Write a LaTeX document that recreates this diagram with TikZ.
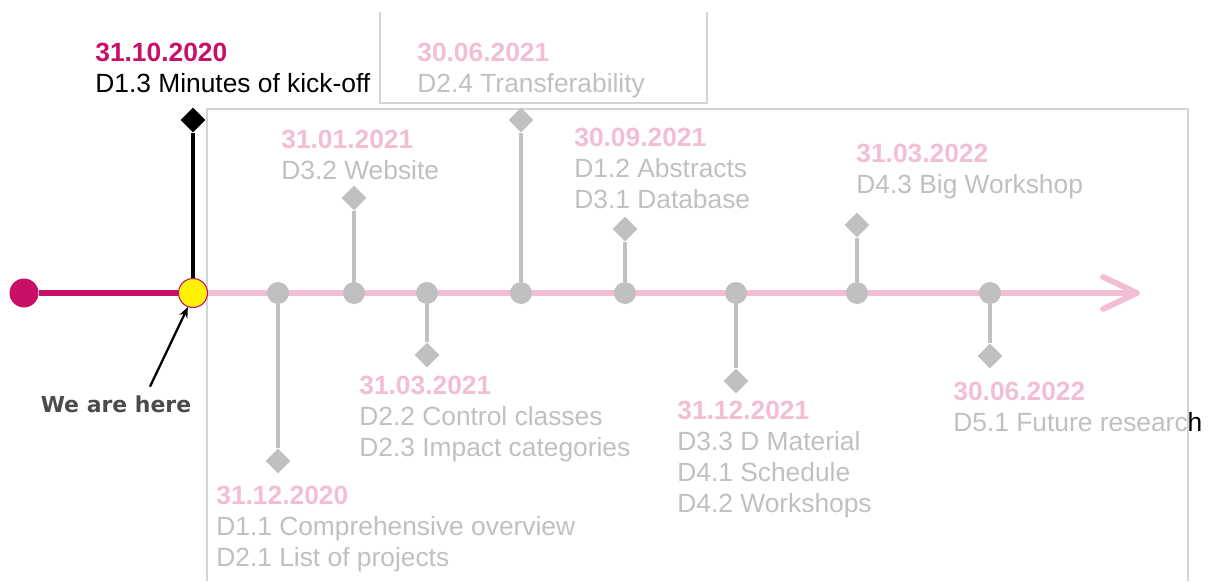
\documentclass[tikz,border=0pt]{standalone}
\usepackage{fontspec}
\setmainfont{Liberation Sans}
\newfontfamily\handfont{DejaVu Sans}
\usetikzlibrary{arrows.meta,shapes.geometric}

\definecolor{kickoff}{RGB}{200,16,104}
\definecolor{lightpink}{RGB}{242,190,214}
\definecolor{fadegray}{RGB}{192,192,192}
\definecolor{framegray}{RGB}{212,212,212}
\definecolor{handgray}{RGB}{75,75,75}

\begin{document}
\begin{tikzpicture}[x=0.02cm, y=-0.02cm,
    event/.style={circle, fill=fadegray, minimum size=0.44cm, inner sep=0},
    milestone/.style={diamond, fill=fadegray, minimum size=0.5cm, inner sep=0},
    stem/.style={fadegray, line width=2.3pt},
    info/.style={anchor=north west, inner sep=0, align=left, text=fadegray, font=\fontsize{15}{17.6}\selectfont},
    frame/.style={framegray, line width=0.6pt}
]
    \useasboundingbox (0,0) rectangle (1212,581);

    % Faded frames
    \draw[frame] (380,12) -- (380,103) -- (707,103) -- (707,12);
    \draw[frame] (207,581) -- (207,109) -- (1188,109) -- (1188,581);

    % Time line
    \node[circle, fill=kickoff, minimum size=0.58cm, inner sep=0] (start) at (24,293) {};
    \node[circle, fill=yellow, draw=kickoff, line width=0.6pt, minimum size=0.58cm, inner sep=0] (now) at (193,293) {};
    \coordinate (tip) at (1140,293);
    \draw[kickoff, line width=2.9pt] (start) -- (now);
    \draw[lightpink, line width=2.9pt, -{Straight Barb[round, length=0.68cm, width=0.64cm, line width=3.3pt]}] (now.east) -- (tip);

    % Kick-off
    \node[milestone, fill=black] (m0) at (193,120) {};
    \draw[black, line width=2.8pt] (now) -- (m0);
    \node[info, text=black] (l0) at (95,43) {\textbf{\textcolor{kickoff}{31.10.2020}}\\D1.3 Minutes of kick-off};

    % Events
    \node[event] (e1) at (278,293) {};
    \node[event] (e2) at (354,293) {};
    \node[event] (e3) at (427,293) {};
    \node[event] (e4) at (521,293) {};
    \node[event] (e5) at (625,293) {};
    \node[event] (e6) at (736,293) {};
    \node[event] (e7) at (857,293) {};
    \node[event] (e8) at (990,293) {};

    % Milestones
    \node[milestone] (m1) at (278,461) {};
    \node[milestone] (m2) at (354,198) {};
    \node[milestone] (m3) at (427,355) {};
    \node[milestone] (m4) at (521,120) {};
    \node[milestone] (m5) at (625,229) {};
    \node[milestone] (m6) at (736,381) {};
    \node[milestone] (m7) at (857,225) {};
    \node[milestone] (m8) at (990,356) {};

    % Stems
    \draw[stem] (e1) -- (m1);
    \draw[stem] (e2) -- (m2);
    \draw[stem] (e3) -- (m3);
    \draw[stem] (e4) -- (m4);
    \draw[stem] (e5) -- (m5);
    \draw[stem] (e6) -- (m6);
    \draw[stem] (e7) -- (m7);
    \draw[stem] (e8) -- (m8);

    % Deliverables
    \node[info] (l1) at (216,486) {\textbf{\textcolor{lightpink}{31.12.2020}}\\D1.1 Comprehensive overview\\D2.1 List of projects};
    \node[info] (l2) at (281,130) {\textbf{\textcolor{lightpink}{31.01.2021}}\\D3.2 Website};
    \node[info] (l3) at (359,376) {\textbf{\textcolor{lightpink}{31.03.2021}}\\D2.2 Control classes\\D2.3 Impact categories};
    \node[info] (l4) at (417,43) {\textbf{\textcolor{lightpink}{30.06.2021}}\\D2.4 Transferability};
    \node[info] (l5) at (574,128) {\textbf{\textcolor{lightpink}{30.09.2021}}\\D1.2 Abstracts\\D3.1 Database};
    \node[info] (l6) at (677,401) {\textbf{\textcolor{lightpink}{31.12.2021}}\\D3.3 D Material\\D4.1 Schedule\\D4.2 Workshops};
    \node[info] (l7) at (856,144) {\textbf{\textcolor{lightpink}{31.03.2022}}\\D4.3 Big Workshop};
    \node[info] (l8) at (953,382) {\textbf{\textcolor{lightpink}{30.06.2022}}\\D5.1 Future researc\textcolor{black}{h}};

    % Pointer
    \node[text=handgray, font=\handfont\bfseries\fontsize{12.5}{15}\selectfont, inner sep=2pt] (here) at (116,404) {We are here};
    \draw[black, line width=1.3pt, -{Stealth[length=6pt, width=5pt]}] ([xshift=0.68cm, yshift=0.1cm]here.north) -- (now.250);
\end{tikzpicture}
\end{document}
